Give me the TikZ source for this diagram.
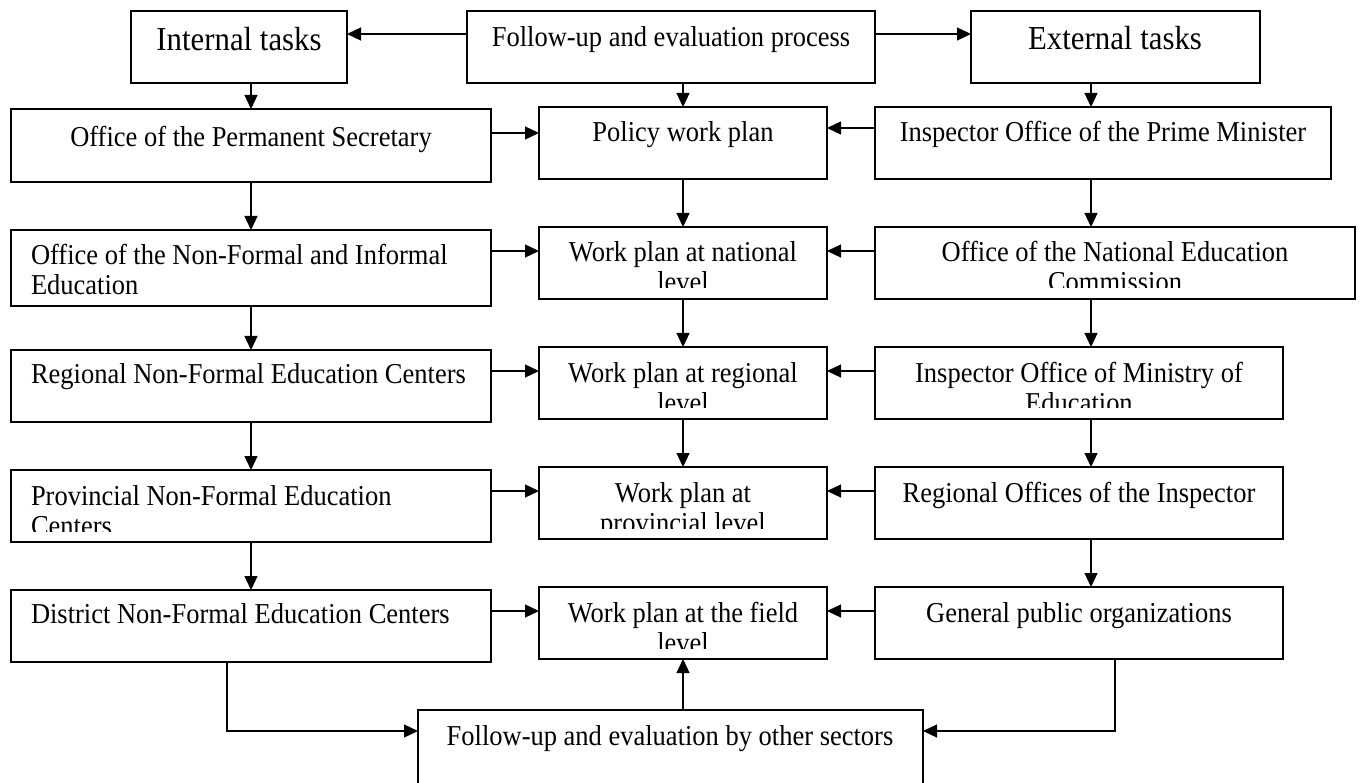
\documentclass[tikz,border=0pt]{standalone}
\usepackage{fontspec}
\setmainfont{Liberation Serif}
\newfontfamily\condfont[FakeStretch=0.92]{Liberation Serif}
\usetikzlibrary{arrows.meta}
\begin{document}
\begin{tikzpicture}[x=1pt,y=-1pt,
  box/.style={draw, line width=1.8pt, inner sep=0pt, outer sep=0pt, anchor=north west},
  conn/.style={line width=1.3pt, -{Triangle[length=14pt,width=13pt]}},
  txt/.style={inner sep=0pt, outer sep=0pt, font=\condfont\fontsize{28.8}{30}\selectfont},
  big/.style={inner sep=0pt, outer sep=0pt, font=\condfont\fontsize{33.5}{36}\selectfont}]
\clip (0,0) rectangle (1362,783);
\fill[white] (0,0) rectangle (1362,783);
% boxes
\node[box, minimum width=216pt, minimum height=72pt] (int) at (131,11) {};
\node[box, minimum width=408pt, minimum height=72pt] (fu) at (467,11) {};
\node[box, minimum width=289pt, minimum height=72pt] (ext) at (971,11) {};
\node[box, minimum width=480pt, minimum height=73pt] (ops) at (11,109) {};
\node[box, minimum width=288pt, minimum height=72pt] (pol) at (539,107) {};
\node[box, minimum width=456pt, minimum height=72pt] (ipm) at (875,107) {};
\node[box, minimum width=480pt, minimum height=76pt] (onfie) at (11,230) {};
\node[box, minimum width=288pt, minimum height=72pt] (wpn) at (539,227) {};
\node[box, minimum width=480pt, minimum height=72pt] (onec) at (875,227) {};
\node[box, minimum width=480pt, minimum height=72pt] (rnfec) at (11,350) {};
\node[box, minimum width=288pt, minimum height=72pt] (wpr) at (539,347) {};
\node[box, minimum width=408pt, minimum height=72pt] (iome) at (875,347) {};
\node[box, minimum width=480pt, minimum height=72pt] (pnfec) at (11,470) {};
\node[box, minimum width=288pt, minimum height=72pt] (wpp) at (539,467) {};
\node[box, minimum width=408pt, minimum height=72pt] (roi) at (875,467) {};
\node[box, minimum width=480pt, minimum height=72pt] (dnfec) at (11,590) {};
\node[box, minimum width=288pt, minimum height=72pt] (wpf) at (539,587) {};
\node[box, minimum width=408pt, minimum height=72pt] (gpo) at (875,587) {};
\node[box, minimum width=505pt, minimum height=100pt] (fuos) at (418,710) {};
% texts
\node[big, anchor=base] (tint) at (239,51) {Internal tasks};
\node[txt, anchor=base] (tfu) at (671,46.5) {Follow-up and evaluation process};
\node[big, anchor=base] (text) at (1115,50) {External tasks};
\node[txt, anchor=base] (tops) at (251,147) {Office of the Permanent Secretary};
\node[txt, anchor=base] (tpol) at (683,142) {Policy work plan};
\node[txt, anchor=base] (tipm) at (1103,142) {Inspector Office of the Prime Minister};
\node[txt, anchor=base west] (tonfie1) at (31,265) {Office of the Non-Formal and Informal};
\node[txt, anchor=base west] (tonfie2) at (31,295) {Education};
\node[txt, anchor=base] (twpn1) at (683,262) {Work plan at national};
\node[txt, anchor=base] (tonec1) at (1115,262) {Office of the National Education};
\node[txt, anchor=base west] (trnfec) at (31,383) {Regional Non-Formal Education Centers};
\node[txt, anchor=base] (twpr1) at (683,382) {Work plan at regional};
\node[txt, anchor=base] (tiome1) at (1079,382) {Inspector Office of Ministry of};
\node[txt, anchor=base west] (tpnfec1) at (31,505) {Provincial Non-Formal Education};
\node[txt, anchor=base] (twpp1) at (683,502) {Work plan at};
\node[txt, anchor=base] (troi) at (1079,502) {Regional Offices of the Inspector};
\node[txt, anchor=base west] (tdnfec) at (31,623) {District Non-Formal Education Centers};
\node[txt, anchor=base] (twpf1) at (683,622) {Work plan at the field};
\node[txt, anchor=base] (tgpo) at (1079,622) {General public organizations};
\node[txt, anchor=base] (tfuos) at (670,745) {Follow-up and evaluation by other sectors};
% clipped second lines
\begin{scope}
\clip (wpn.north west) rectangle ([yshift=11pt]wpn.south east);
\node[txt, anchor=base] (twpn2) at (683,292) {level};
\end{scope}
\begin{scope}
\clip (onec.north west) rectangle ([yshift=11pt]onec.south east);
\node[txt, anchor=base] (tonec2) at (1115,292) {Commission};
\end{scope}
\begin{scope}
\clip (wpr.north west) rectangle ([yshift=12pt]wpr.south east);
\node[txt, anchor=base] (twpr2) at (683,412) {level};
\end{scope}
\begin{scope}
\clip (iome.north west) rectangle ([yshift=12pt]iome.south east);
\node[txt, anchor=base] (tiome2) at (1079,412) {Education};
\end{scope}
\begin{scope}
\clip (pnfec.north west) rectangle ([yshift=11pt]pnfec.south east);
\node[txt, anchor=base west] (tpnfec2) at (31,535) {Centers};
\end{scope}
\begin{scope}
\clip (wpp.north west) rectangle ([yshift=11pt]wpp.south east);
\node[txt, anchor=base] (twpp2) at (683,532) {provincial level};
\end{scope}
\begin{scope}
\clip (wpf.north west) rectangle ([yshift=11pt]wpf.south east);
\node[txt, anchor=base] (twpf2) at (683,652) {level};
\end{scope}
% helper coordinates
\coordinate (rc) at (1091,0);
\coordinate (lx) at (227,0);
\coordinate (gx) at (1115,0);
\coordinate (yA) at (0,34);
\coordinate (yB1) at (0,133);
\coordinate (yB2) at (0,128);
\coordinate (y3) at (0,251);
\coordinate (y4) at (0,371);
\coordinate (y5) at (0,491);
\coordinate (y6) at (0,611);
\coordinate (y7) at (0,731);
% connectors
\draw[conn] (fu.west |- yA) -- (int.east |- yA);
\draw[conn] (fu.east |- yA) -- (ext.west |- yA);
\draw[conn] (ops.north |- int.south) -- (ops.north);
\draw[conn] (pol.north |- fu.south) -- (pol.north);
\draw[conn] (rc |- ext.south) -- (rc |- ipm.north);
\draw[conn] (ops.east |- yB1) -- (pol.west |- yB1);
\draw[conn] (ipm.west |- yB2) -- (pol.east |- yB2);
\draw[conn] (ops.south) -- (onfie.north);
\draw[conn] (pol.south) -- (wpn.north);
\draw[conn] (rc |- ipm.south) -- (rc |- onec.north);
\draw[conn] (onfie.east |- y3) -- (wpn.west |- y3);
\draw[conn] (onec.west |- y3) -- (wpn.east |- y3);
\draw[conn] (onfie.south) -- (rnfec.north);
\draw[conn] (wpn.south) -- (wpr.north);
\draw[conn] (rc |- onec.south) -- (rc |- iome.north);
\draw[conn] (rnfec.east |- y4) -- (wpr.west |- y4);
\draw[conn] (iome.west |- y4) -- (wpr.east |- y4);
\draw[conn] (rnfec.south) -- (pnfec.north);
\draw[conn] (wpr.south) -- (wpp.north);
\draw[conn] (rc |- iome.south) -- (rc |- roi.north);
\draw[conn] (pnfec.east |- y5) -- (wpp.west |- y5);
\draw[conn] (roi.west |- y5) -- (wpp.east |- y5);
\draw[conn] (pnfec.south) -- (dnfec.north);
\draw[conn] (rc |- roi.south) -- (rc |- gpo.north);
\draw[conn] (dnfec.east |- y6) -- (wpf.west |- y6);
\draw[conn] (gpo.west |- y6) -- (wpf.east |- y6);
\draw[conn] (wpf.south |- fuos.north) -- (wpf.south);
\draw[conn] (lx |- dnfec.south) -- (lx |- y7) -- (fuos.west |- y7);
\draw[conn] (gx |- gpo.south) -- (gx |- y7) -- (fuos.east |- y7);
\end{tikzpicture}
\end{document}
